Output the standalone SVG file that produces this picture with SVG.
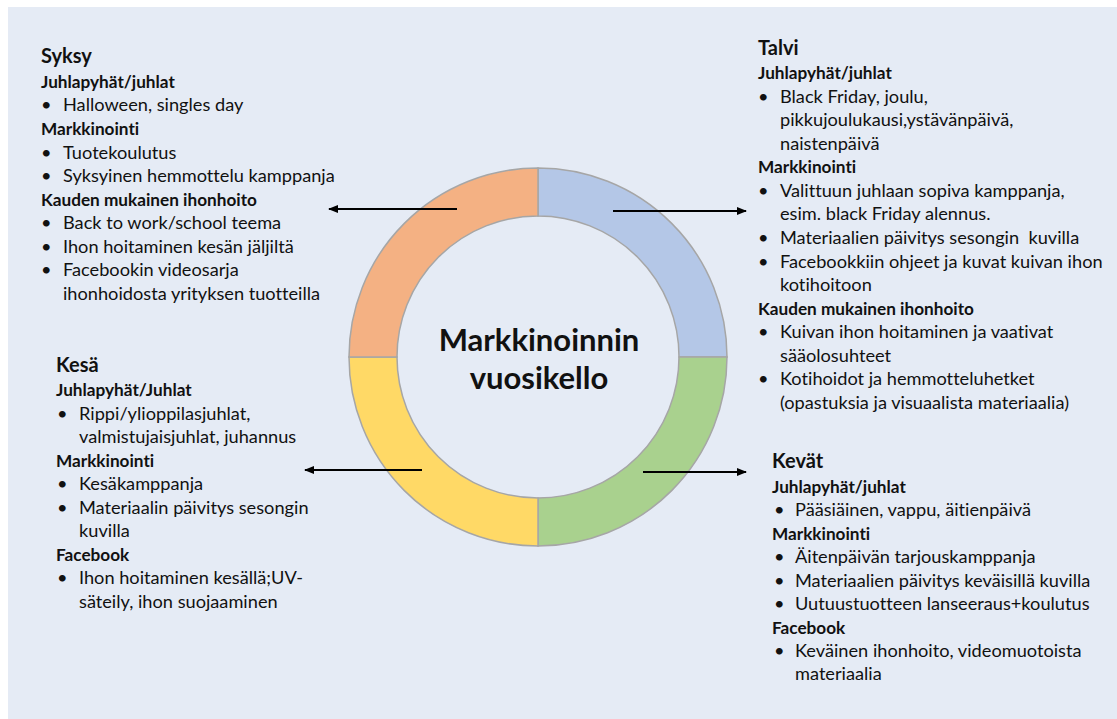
<svg xmlns="http://www.w3.org/2000/svg" width="1117" height="719" viewBox="0 0 1117 719">
  <defs>
    <marker id="arrowhead" markerWidth="10" markerHeight="8" refX="9" refY="4" orient="auto" markerUnits="userSpaceOnUse">
      <path d="M0,0 L10,4 L0,8 Z" fill="#000"/>
    </marker>
  </defs>
  <style>
    text { font-family: Lato, "Open Sans", "Liberation Sans", sans-serif; fill: #111; font-variant-ligatures: none; }
    .season { font-size: 20px; font-weight: bold; }
    .sub { font-size: 17.2px; font-weight: bold; }
    .item { font-size: 18.2px; }
    .title { font-size: 31px; font-weight: bold; text-anchor: middle; }
    .ring { stroke: #A6A6A6; stroke-width: 1.5; }
    .conn { stroke: #000; stroke-width: 2; fill: none; marker-end: url(#arrowhead); }
  </style>

  <!-- backdrop -->
  <rect x="8" y="7" width="1109" height="712" fill="#E5EBF5"/>

  <!-- year clock ring -->
  <g id="ring">
    <path id="q-winter" class="ring" fill="#B4C7E7" d="M538,168 A189,189 0 0 1 727,357 L679,357 A141,141 0 0 0 538,216 Z"/>
    <path id="q-spring" class="ring" fill="#A9D18E" d="M727,357 A189,189 0 0 1 538,546 L538,498 A141,141 0 0 0 679,357 Z"/>
    <path id="q-summer" class="ring" fill="#FFD966" d="M538,546 A189,189 0 0 1 349,357 L397,357 A141,141 0 0 0 538,498 Z"/>
    <path id="q-autumn" class="ring" fill="#F4B183" d="M349,357 A189,189 0 0 1 538,168 L538,216 A141,141 0 0 0 397,357 Z"/>
    <text class="title" x="539" y="351">Markkinoinnin</text>
    <text class="title" x="539" y="389">vuosikello</text>
  </g>

  <!-- connectors -->
  <g id="connectors">
    <line class="conn" x1="457" y1="209" x2="329" y2="209"/>
    <line class="conn" x1="613" y1="211" x2="746" y2="211"/>
    <line class="conn" x1="422" y1="470" x2="305" y2="470"/>
    <line class="conn" x1="643" y1="472" x2="746" y2="472"/>
  </g>

  <!-- autumn -->
  <g id="syksy">
    <text class="season" x="41" y="63">Syksy</text>
    <text class="sub" x="41" y="88">Juhlapyhät/juhlat</text>
    <text class="item" x="41" y="111">•</text><text class="item" x="63" y="111">Halloween, singles day</text>
    <text class="sub" x="41" y="135">Markkinointi</text>
    <text class="item" x="41" y="159">•</text><text class="item" x="63" y="159">Tuotekoulutus</text>
    <text class="item" x="41" y="182">•</text><text class="item" x="63" y="182">Syksyinen hemmottelu kamppanja</text>
    <text class="sub" x="41" y="206">Kauden mukainen ihonhoito</text>
    <text class="item" x="41" y="229">•</text><text class="item" x="63" y="229">Back to work/school teema</text>
    <text class="item" x="41" y="253">•</text><text class="item" x="63" y="253">Ihon hoitaminen kesän jäljiltä</text>
    <text class="item" x="41" y="276">•</text><text class="item" x="63" y="276">Facebookin videosarja</text>
    <text class="item" x="63" y="300">ihonhoidosta yrityksen tuotteilla</text>
  </g>

  <!-- winter -->
  <g id="talvi">
    <text class="season" x="758" y="55">Talvi</text>
    <text class="sub" x="758" y="79">Juhlapyhät/juhlat</text>
    <text class="item" x="758" y="103">•</text><text class="item" x="780" y="103">Black Friday, joulu,</text>
    <text class="item" x="780" y="126">pikkujoulukausi,ystävänpäivä,</text>
    <text class="item" x="780" y="150">naistenpäivä</text>
    <text class="sub" x="758" y="173">Markkinointi</text>
    <text class="item" x="758" y="197">•</text><text class="item" x="780" y="197">Valittuun juhlaan sopiva kamppanja,</text>
    <text class="item" x="780" y="220">esim. black Friday alennus.</text>
    <text class="item" x="758" y="244">•</text><text class="item" x="780" y="244">Materiaalien päivitys sesongin&#160; kuvilla</text>
    <text class="item" x="758" y="268">•</text><text class="item" x="780" y="268">Facebookkiin ohjeet ja kuvat kuivan ihon</text>
    <text class="item" x="780" y="291">kotihoitoon</text>
    <text class="sub" x="758" y="315">Kauden mukainen ihonhoito</text>
    <text class="item" x="758" y="338">•</text><text class="item" x="780" y="338">Kuivan ihon hoitaminen ja vaativat</text>
    <text class="item" x="780" y="362">sääolosuhteet</text>
    <text class="item" x="758" y="385">•</text><text class="item" x="780" y="385">Kotihoidot ja hemmotteluhetket</text>
    <text class="item" x="780" y="409">(opastuksia ja visuaalista materiaalia)</text>
  </g>

  <!-- summer -->
  <g id="kesa">
    <text class="season" x="56" y="372">Kesä</text>
    <text class="sub" x="56" y="396">Juhlapyhät/Juhlat</text>
    <text class="item" x="57" y="420">•</text><text class="item" x="79" y="420">Rippi/ylioppilasjuhlat,</text>
    <text class="item" x="79" y="443">valmistujaisjuhlat, juhannus</text>
    <text class="sub" x="56" y="467">Markkinointi</text>
    <text class="item" x="57" y="490">•</text><text class="item" x="79" y="490">Kesäkamppanja</text>
    <text class="item" x="57" y="514">•</text><text class="item" x="79" y="514">Materiaalin päivitys sesongin</text>
    <text class="item" x="79" y="537">kuvilla</text>
    <text class="sub" x="56" y="561">Facebook</text>
    <text class="item" x="57" y="584">•</text><text class="item" x="79" y="584">Ihon hoitaminen kesällä;UV-</text>
    <text class="item" x="79" y="608">säteily, ihon suojaaminen</text>
  </g>

  <!-- spring -->
  <g id="kevat">
    <text class="season" x="772" y="468">Kevät</text>
    <text class="sub" x="772" y="493">Juhlapyhät/juhlat</text>
    <text class="item" x="774" y="516">•</text><text class="item" x="795" y="516">Pääsiäinen, vappu, äitienpäivä</text>
    <text class="sub" x="772" y="540">Markkinointi</text>
    <text class="item" x="774" y="563">•</text><text class="item" x="795" y="563">Äitenpäivän tarjouskamppanja</text>
    <text class="item" x="774" y="587">•</text><text class="item" x="795" y="587">Materiaalien päivitys keväisillä kuvilla</text>
    <text class="item" x="774" y="610">•</text><text class="item" x="795" y="610">Uutuustuotteen lanseeraus+koulutus</text>
    <text class="sub" x="772" y="634">Facebook</text>
    <text class="item" x="774" y="657">•</text><text class="item" x="795" y="657">Keväinen ihonhoito, videomuotoista</text>
    <text class="item" x="795" y="680">materiaalia</text>
  </g>
</svg>
